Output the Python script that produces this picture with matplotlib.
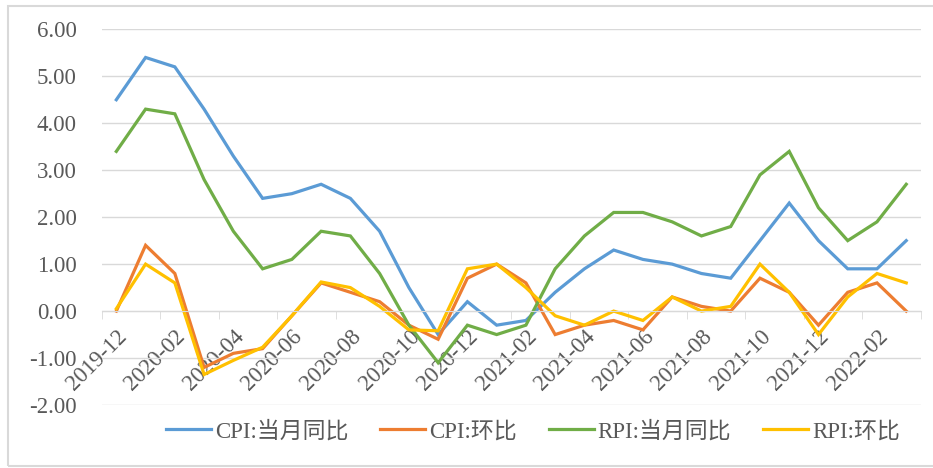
import matplotlib.pyplot as plt
from matplotlib.patches import Rectangle

# 数据（2019-12 至 2022-03）
months = ['2019-12', '2020-01', '2020-02', '2020-03', '2020-04', '2020-05', '2020-06',
          '2020-07', '2020-08', '2020-09', '2020-10', '2020-11', '2020-12',
          '2021-01', '2021-02', '2021-03', '2021-04', '2021-05', '2021-06',
          '2021-07', '2021-08', '2021-09', '2021-10', '2021-11', '2021-12',
          '2022-01', '2022-02', '2022-03']
cpi_yoy = [4.5, 5.4, 5.2, 4.3, 3.3, 2.4, 2.5, 2.7, 2.4, 1.7, 0.5, -0.5, 0.2,
           -0.3, -0.2, 0.4, 0.9, 1.3, 1.1, 1.0, 0.8, 0.7, 1.5, 2.3, 1.5,
           0.9, 0.9, 1.5]
cpi_mom = [0.0, 1.4, 0.8, -1.2, -0.9, -0.8, -0.1, 0.6, 0.4, 0.2, -0.3, -0.6, 0.7,
           1.0, 0.6, -0.5, -0.3, -0.2, -0.4, 0.3, 0.1, 0.0, 0.7, 0.4, -0.3,
           0.4, 0.6, 0.0]
rpi_yoy = [3.4, 4.3, 4.2, 2.8, 1.7, 0.9, 1.1, 1.7, 1.6, 0.8, -0.3, -1.1, -0.3,
           -0.5, -0.3, 0.9, 1.6, 2.1, 2.1, 1.9, 1.6, 1.8, 2.9, 3.4, 2.2,
           1.5, 1.9, 2.7]
rpi_mom = [0.05, 1.0, 0.6, -1.35, -1.05, -0.77, -0.1, 0.62, 0.5, 0.1, -0.4, -0.42, 0.9,
           1.0, 0.5, -0.1, -0.3, 0.0, -0.2, 0.3, 0.0, 0.1, 1.0, 0.4, -0.5,
           0.3, 0.8, 0.6]
labels = ['CPI:当月同比', 'CPI:环比', 'RPI:当月同比', 'RPI:环比']
colors = ['#5B9BD5', '#ED7D31', '#70AD47', '#FFC000']

fonts = ['Liberation Serif', 'Noto Sans CJK SC']
plt.rcParams['font.family'] = fonts
grey = '#595959'
fs = 16.5

fig = plt.figure(figsize=(9.33, 4.68), dpi=100)
ax = fig.add_axes([0.109, 0.1346, 0.878, 0.8028])

x = list(range(len(months)))
for vals, lab, c in zip([cpi_yoy, cpi_mom, rpi_yoy, rpi_mom], labels, colors):
    ax.plot(x, vals, color=c, lw=2.3, label=lab, solid_joinstyle='miter')

ax.set_xlim(-0.5, len(months) - 0.5)
ax.set_ylim(-2, 6)
ax.set_yticks(range(-2, 7))
ax.set_yticklabels([f'{v:.2f}' for v in range(-2, 7)])
ax.tick_params(axis='y', length=0, pad=18, labelsize=fs, labelcolor=grey)
ax.grid(axis='y', color='#D9D9D9', lw=1)
ax.set_axisbelow(True)

for s in ['top', 'right', 'left']:
    ax.spines[s].set_visible(False)
ax.spines['bottom'].set_position(('data', 0))
ax.spines['bottom'].set_color('#D9D9D9')

ax.set_xticks(x[::2])
ax.set_xticklabels(months[::2], rotation=45, ha='right', rotation_mode='anchor')
ax.set_xticks([i - 0.5 for i in range(0, len(months) + 1, 2)], minor=True)
ax.tick_params(axis='x', which='major', length=0, pad=11, labelsize=fs, labelcolor=grey)
ax.tick_params(axis='x', which='minor', length=6, color='#D9D9D9')

leg = fig.legend(loc='center', bbox_to_anchor=(0.571, 0.0776), ncol=4, frameon=False,
                 fontsize=fs, handlelength=1.96, handletextpad=0.17, columnspacing=1.4)
for t in leg.get_texts():
    t.set_color(grey)

fig.patches.append(Rectangle((8 / 933, 2 / 468), 1, 1 - 8 / 468, transform=fig.transFigure,
                             fill=False, edgecolor='#D9D9D9', lw=1.5))

fig.savefig('out.png', dpi=100)
